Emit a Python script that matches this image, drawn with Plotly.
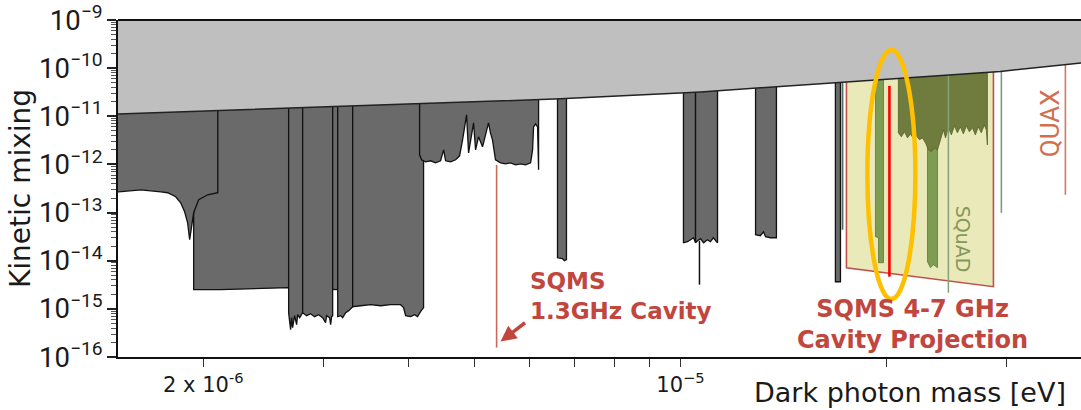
import math
import plotly.graph_objects as go

# ---------------- axis extents ----------------
X_MIN, X_MAX = 1.5e-6, 3.86e-5
Y_LOG_RANGE = [-16, -9]
TOP = 1e-9

# ---------------- upper (light gray) excluded region boundary ----------------
bound_m = [1.45e-6, 1.503e-6, 2.34e-6, 3.89e-6, 6.67e-6, 1.07e-5, 1.66e-5, 2.48e-5, 2.94e-5, 3.86e-5, 4.0e-5]
bound_eps = [1.10e-11, 1.12e-11, 1.39e-11, 1.73e-11, 2.3e-11, 3.21e-11, 4.93e-11, 7.22e-11, 8.55e-11, 1.28e-10, 1.36e-10]

# ---------------- dark gray excluded regions (bottom profiles) ----------------
b_m = [1.936e-6, 2.12e-6, 2.34e-6, 2.667e-6, 2.796e-6, 3.147e-6]
b_eps = [2.5e-15, 2.5e-15, 2.62e-15, 2.75e-15, 2.62e-15, 2.5e-15]

a_m = [1.45e-6, 1.503e-6, 1.62e-6, 1.733e-6, 1.774e-6, 1.822e-6, 1.853e-6, 1.878e-6, 1.897e-6,
       1.910e-6, 1.923e-6, 1.936e-6, 1.969e-6, 2.030e-6, 2.10e-6]
a_eps = [2.70e-13, 2.70e-13, 2.97e-13, 2.70e-13, 2.58e-13, 2.13e-13, 1.60e-13, 1.04e-13, 6.14e-14,
         2.73e-14, 5.58e-14, 9.9e-14, 1.85e-13, 2.34e-13, 2.58e-13]

c1_m = [2.667e-6, 2.676e-6, 2.685e-6, 2.694e-6, 2.703e-6, 2.721e-6, 2.740e-6, 2.749e-6, 2.768e-6, 2.796e-6]
c1_eps = [8.34e-16, 5.43e-16, 3.70e-16, 6.56e-16, 4.07e-16, 7.22e-16, 4.70e-16, 7.58e-16, 6.56e-16, 8.34e-16]

c2_m = [2.796e-6, 2.834e-6, 2.872e-6, 2.911e-6, 2.951e-6, 2.991e-6, 3.021e-6, 3.031e-6, 3.062e-6,
        3.073e-6, 3.083e-6, 3.094e-6]
c2_eps = [8.34e-16, 7.22e-16, 7.95e-16, 6.89e-16, 7.58e-16, 6.56e-16, 5.17e-16, 7.22e-16, 6.56e-16,
          4.70e-16, 6.89e-16, 7.22e-16]

e1_m = [3.147e-6, 3.179e-6, 3.200e-6, 3.233e-6, 3.266e-6, 3.310e-6]
e1_eps = [6.89e-16, 7.22e-16, 6.56e-16, 8.34e-16, 9.18e-16, 1.11e-15]

e2_m = [3.310e-6, 3.400e-6, 3.516e-6, 3.637e-6, 3.761e-6, 3.890e-6, 3.930e-6, 3.957e-6, 4.024e-6,
        4.079e-6, 4.119e-6, 4.161e-6, 4.204e-6]
e2_eps = [1.11e-15, 1.16e-15, 1.22e-15, 1.16e-15, 1.22e-15, 1.22e-15, 1.06e-15, 7.22e-16, 6.89e-16,
          7.58e-16, 6.89e-16, 8.75e-16, 1.06e-15]

f_m = [4.148e-6, 4.176e-6, 4.232e-6, 4.305e-6, 4.378e-6, 4.452e-6, 4.498e-6, 4.528e-6, 4.605e-6,
       4.684e-6, 4.747e-6, 4.795e-6, 4.844e-6, 4.860e-6, 4.893e-6, 4.943e-6, 4.976e-6, 5.010e-6,
       5.060e-6, 5.129e-6, 5.181e-6, 5.233e-6, 5.268e-6, 5.304e-6, 5.358e-6, 5.450e-6, 5.543e-6,
       5.637e-6, 5.734e-6, 5.831e-6, 5.930e-6, 6.031e-6, 6.072e-6, 6.092e-6, 6.134e-6, 6.175e-6,
       6.196e-6]
f_eps = [1.58e-12, 1.25e-12, 1.13e-12, 1.19e-12, 1.08e-12, 1.19e-12, 2.01e-12, 1.19e-12, 1.13e-12,
         1.25e-12, 1.51e-12, 3.24e-12, 9.27e-12, 1.07e-11, 1.74e-12, 4.11e-12, 7.30e-12, 2.01e-12,
         3.74e-12, 2.32e-12, 4.11e-12, 7.30e-12, 4.53e-12, 3.24e-12, 1.25e-12, 1.08e-12, 1.03e-12,
         1.08e-12, 9.81e-13, 1.03e-12, 9.81e-13, 1.08e-12, 2.01e-12, 6.03e-12, 6.95e-12, 6.03e-12,
         7.73e-13]

g_m = [6.604e-6, 6.716e-6, 6.761e-6, 6.807e-6]
g_eps = [1.15e-14, 1.10e-14, 1.00e-14, 1.05e-14]

h1_m = [1.010e-5, 1.024e-5, 1.034e-5, 1.045e-5, 1.052e-5]
h1_eps = [2.36e-14, 2.48e-14, 2.73e-14, 3.00e-14, 2.36e-14]

h2_m = [1.052e-5, 1.059e-5, 1.070e-5, 1.081e-5, 1.095e-5, 1.106e-5, 1.117e-5, 1.133e-5]
h2_eps = [2.36e-14, 2.60e-14, 2.86e-14, 2.36e-14, 2.73e-14, 2.48e-14, 3.00e-14, 2.36e-14]

i_m = [1.288e-5, 1.309e-5, 1.323e-5, 1.332e-5, 1.354e-5, 1.382e-5]
i_eps = [3.46e-14, 3.30e-14, 4.00e-14, 3.15e-14, 3.00e-14, 3.00e-14]

j_m = [1.686e-5, 1.715e-5]
j_eps = [3.66e-15, 3.66e-15]

# thin dark line below region H
h_line_m = [1.066e-5, 1.066e-5]
h_line_eps = [2.6e-14, 3.18e-15]

# ---------------- SQMS 4-7 GHz projection (yellow) ----------------
proj_m = [1.750e-5, 2.873e-5]
proj_eps = [7.16e-15, 2.89e-15]

# ---------------- SQuAD (green) ----------------
sq_bar1_m = [1.930e-5, 1.950e-5, 1.950e-5, 1.983e-5]
sq_bar1_eps = [3.15e-14, 3.00e-14, 9.1e-15, 9.1e-15]

sq_bar2_m = [2.300e-5, 2.323e-5, 2.347e-5, 2.379e-5]
sq_bar2_eps = [9.54e-15, 7.16e-15, 8.26e-15, 7.16e-15]

sq_main_m = [2.085e-5, 2.106e-5, 2.128e-5, 2.150e-5, 2.172e-5, 2.194e-5, 2.216e-5, 2.239e-5, 2.261e-5,
             2.284e-5, 2.307e-5, 2.331e-5, 2.355e-5, 2.379e-5, 2.403e-5, 2.427e-5, 2.444e-5, 2.468e-5,
             2.493e-5, 2.519e-5, 2.544e-5, 2.570e-5, 2.596e-5, 2.622e-5, 2.649e-5, 2.676e-5, 2.703e-5,
             2.730e-5, 2.758e-5, 2.786e-5, 2.805e-5, 2.815e-5]
sq_main_eps = [4.53e-12, 3.74e-12, 4.75e-12, 3.56e-12, 4.31e-12, 3.40e-12, 3.92e-12, 3.24e-12, 3.56e-12,
               2.81e-12, 2.01e-12, 1.85e-12, 2.20e-12, 2.01e-12, 3.24e-12, 5.22e-12, 3.56e-12, 5.75e-12,
               4.11e-12, 6.32e-12, 4.53e-12, 6.03e-12, 4.31e-12, 6.32e-12, 4.75e-12, 5.75e-12, 4.11e-12,
               6.03e-12, 4.53e-12, 6.63e-12, 5.22e-12, 2.55e-12]

sq_line_m = [2.468e-5, 2.468e-5]
sq_line_eps = [TOP, 2.17e-15]

teal_line1_m = [1.727e-5, 1.727e-5]
teal_line1_eps = [TOP, 4.40e-14]

teal_line2_m = [2.951e-5, 2.951e-5]
teal_line2_eps = [TOP, 9.9e-14]

# ---------------- QUAX / SQMS 1.3 GHz / highlighted line ----------------
quax_m = [3.662e-5, 3.662e-5]
quax_eps = [TOP, 2.34e-13]

sqms13_m = [5.378e-6, 5.378e-6]
sqms13_eps = [9.81e-13, 1.57e-16]

red_m = [2.023e-5, 2.023e-5]
red_eps = [4.28e-11, 4.66e-15]

# ellipse highlight extents (data units)
ell_m = [1.878e-5, 2.208e-5]
ell_eps = [1.6e-15, 2.39e-10]

# ticks
x_tickvals = [2e-6, 3e-6, 4e-6, 5e-6, 6e-6, 7e-6, 8e-6, 9e-6, 1e-5, 2e-5, 3e-5]
x_ticktext = ["2 x 10<sup>-6</sup>", "", "", "", "", "", "", "", "10<sup>\u22125</sup>", "", ""]

# ---------------- colours ----------------
DARK = "#6a6a6a"
LIGHT = "#bfbfbf"
EDGE = "#111111"
SQMS_RED = "#c0463e"

L = math.log10
X_LOG_RANGE = [L(X_MIN), L(X_MAX)]

fig = go.Figure()


def add_region(m, eps, fill, line_color=EDGE, line_w=1.3):
    xs = [m[0]] + list(m) + [m[-1], m[0]]
    ys = [TOP] + list(eps) + [TOP, TOP]
    fig.add_trace(go.Scatter(x=xs, y=ys, mode="lines", fill="toself", fillcolor=fill,
                             line=dict(color=line_color, width=line_w), hoverinfo="skip",
                             showlegend=False))


def add_line(m, eps, color, width):
    fig.add_trace(go.Scatter(x=m, y=eps, mode="lines", line=dict(color=color, width=width),
                             hoverinfo="skip", showlegend=False))


for m, e in [(b_m, b_eps), (a_m, a_eps), (c1_m, c1_eps), (c2_m, c2_eps), (e1_m, e1_eps),
             (e2_m, e2_eps), (f_m, f_eps), (g_m, g_eps), (h1_m, h1_eps), (h2_m, h2_eps),
             (i_m, i_eps), (j_m, j_eps)]:
    add_region(m, e, DARK)
add_line(h_line_m, h_line_eps, "#111111", 1.5)
add_line(teal_line1_m, teal_line1_eps, "#4f6f60", 1.8)

# yellow projection
add_region(proj_m, proj_eps, "rgb(234,233,186)", "#c0504d", 1.6)
# SQuAD
add_region(sq_bar1_m, sq_bar1_eps, "#7f9d52", "#5c7a35", 0.8)
add_region(sq_bar2_m, sq_bar2_eps, "#7f9d52", "#5c7a35", 0.8)
add_region(sq_main_m, sq_main_eps, "#707c3d", "#56622a", 0.8)
add_line(sq_line_m, sq_line_eps, "#86a07a", 1.5)
add_line(teal_line2_m, teal_line2_eps, "#7a9a8a", 1.6)
add_line(quax_m, quax_eps, "#d4775e", 1.6)
add_line(sqms13_m, sqms13_eps, "#c86a5a", 1.6)
add_line(red_m, red_eps, "#ff0000", 2.6)

# light gray top region
fig.add_trace(go.Scatter(x=bound_m + [bound_m[-1], bound_m[0], bound_m[0]],
                         y=bound_eps + [TOP, TOP, bound_eps[0]],
                         mode="lines", fill="toself", fillcolor=LIGHT, line=dict(width=0),
                         hoverinfo="skip", showlegend=False))
add_line(bound_m, bound_eps, "#222222", 1.5)


def to_paper_x(v):
    return (L(v) - X_LOG_RANGE[0]) / (X_LOG_RANGE[1] - X_LOG_RANGE[0])


def to_paper_y(v):
    return (L(v) - Y_LOG_RANGE[0]) / (Y_LOG_RANGE[1] - Y_LOG_RANGE[0])


# ellipse highlight (placed via the axis scale, in paper units)
fig.add_shape(type="circle", xref="paper", yref="paper",
              x0=to_paper_x(ell_m[0]), x1=to_paper_x(ell_m[1]),
              y0=to_paper_y(ell_eps[0]), y1=to_paper_y(ell_eps[1]),
              line=dict(color="#ffc000", width=4.5), layer="above")
# frame top line
fig.add_shape(type="line", xref="paper", yref="paper", x0=0, x1=1, y0=1, y1=1,
              line=dict(color="#111111", width=2))

FONT = "Roboto, Arial, sans-serif"
WIDE = "DejaVu Sans, Arial, sans-serif"
fig.add_annotation(x=L(5.97e-6), y=L(7.6e-15), xref="x", yref="y", xanchor="left", yanchor="top",
                   align="left", showarrow=False, text="SQMS<br>1.3GHz Cavity",
                   font=dict(family=WIDE, size=23, color=SQMS_RED, weight="bold"))
fig.add_annotation(x=L(5.45e-6), y=L(2.09e-16), xref="x", yref="y", text="", showarrow=True,
                   ax=26, ay=-20, arrowhead=2, arrowsize=0.9, arrowwidth=3.5, arrowcolor=SQMS_RED)
fig.add_annotation(x=L(2.186e-5), y=L(4.8e-16), xref="x", yref="y", xanchor="center", yanchor="middle",
                   align="center", showarrow=False, text="SQMS 4-7 GHz<br>Cavity Projection",
                   font=dict(family=WIDE, size=24, color=SQMS_RED, weight="bold"))
fig.add_annotation(x=L(2.588e-5), y=L(2.8e-14), xref="x", yref="y", textangle=90, showarrow=False,
                   text="SQuAD", font=dict(family=WIDE, size=19, color="#859858"))
fig.add_annotation(x=L(3.48e-5), y=L(7.30e-12), xref="x", yref="y", textangle=-90, showarrow=False,
                   text="QUAX", font=dict(family=FONT, size=26, color="#d0704f"))
fig.add_annotation(x=0.9865, y=-0.105, xref="paper", yref="paper", xanchor="right", yanchor="middle",
                   showarrow=False, text="Dark photon mass [eV]",
                   font=dict(family=WIDE, size=27, color="#1a1a1a"))

fig.update_layout(
    width=1081, height=410,
    margin=dict(l=118, r=0, t=20, b=53),
    paper_bgcolor="white", plot_bgcolor="white",
    font=dict(family=FONT, color="#1a1a1a"),
    showlegend=False,
    xaxis=dict(type="log", range=X_LOG_RANGE, showgrid=False, zeroline=False,
               showline=True, linecolor="#111111", linewidth=2,
               tickmode="array", tickvals=x_tickvals, ticktext=x_ticktext,
               ticks="outside", ticklen=8, tickwidth=1, tickcolor="#333333",
               tickfont=dict(family=WIDE, size=21, color="#1a1a1a")),
    yaxis=dict(type="log", range=Y_LOG_RANGE, showgrid=False, zeroline=False,
               showline=True, linecolor="#111111", linewidth=2,
               dtick=1, exponentformat="power", showexponent="all",
               ticks="outside", ticklen=9, tickwidth=1.5, tickcolor="#222222",
               minor=dict(ticks="outside", ticklen=5, dtick="D1", tickcolor="#555555", tickwidth=1),
               tickfont=dict(family=FONT, size=22, color="#1a1a1a"),
               title=dict(text="Kinetic mixing", font=dict(family=WIDE, size=28, color="#1a1a1a"),
                          standoff=0)),
)

fig.write_html("out.html")
